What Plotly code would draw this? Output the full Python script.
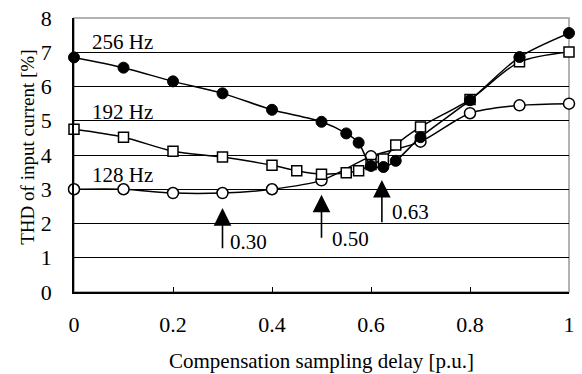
import plotly.graph_objects as go

# Data
x_256 = [0, 0.1, 0.2, 0.3, 0.4, 0.5, 0.55, 0.575, 0.6, 0.625, 0.65, 0.7, 0.8, 0.9, 1.0]
y_256 = [6.85, 6.55, 6.15, 5.8, 5.32, 4.97, 4.63, 4.36, 3.68, 3.65, 3.83, 4.52, 5.6, 6.86, 7.56]

x_192 = [0, 0.1, 0.2, 0.3, 0.4, 0.45, 0.5, 0.55, 0.575, 0.6, 0.625, 0.65, 0.7, 0.8, 0.9, 1.0]
y_192 = [4.75, 4.52, 4.11, 3.94, 3.70, 3.54, 3.44, 3.48, 3.54, 3.72, 3.88, 4.29, 4.82, 5.62, 6.72, 7.01]

x_128 = [0, 0.1, 0.2, 0.3, 0.4, 0.5, 0.6, 0.7, 0.8, 0.9, 1.0]
y_128 = [3.0, 3.0, 2.89, 2.89, 3.0, 3.26, 3.96, 4.39, 5.22, 5.45, 5.5]

series_labels = ["256 Hz", "192 Hz", "128 Hz"]
label_x = [0.032, 0.032, 0.032]
label_y = [7.30, 5.27, 3.42]

arrow_text = ["0.30", "0.50", "0.63"]
arrow_x = [0.30, 0.50, 0.622]
arrow_head_y = [2.45, 2.84, 3.27]
arrow_tail_y = [1.23, 1.54, 1.99]
arrow_text_x = [0.352, 0.559, 0.680]
arrow_text_y = [1.47, 1.54, 2.33]

x_ticks = [0, 0.2, 0.4, 0.6, 0.8, 1]
x_ticktext = ["0", "0.2", "0.4", "0.6", "0.8", "1"]
y_ticks = [0, 1, 2, 3, 4, 5, 6, 7, 8]

x_title = "Compensation sampling delay [p.u.]"
y_title = "THD of input current [%]"

FONT = "Liberation Serif, Times New Roman, serif"

fig = go.Figure()

fig.add_trace(go.Scatter(
    x=x_128, y=y_128, mode="lines+markers",
    line=dict(color="black", width=1.5, shape="spline", smoothing=0.8),
    marker=dict(symbol="circle", size=11, color="white", line=dict(color="black", width=1.5)),
    showlegend=False, cliponaxis=False))
fig.add_trace(go.Scatter(
    x=x_192, y=y_192, mode="lines+markers",
    line=dict(color="black", width=1.5, shape="spline", smoothing=0.8),
    marker=dict(symbol="square", size=10, color="white", line=dict(color="black", width=1.5)),
    showlegend=False, cliponaxis=False))
fig.add_trace(go.Scatter(
    x=x_256, y=y_256, mode="lines+markers",
    line=dict(color="black", width=1.5, shape="spline", smoothing=0.8),
    marker=dict(symbol="circle", size=11, color="black", line=dict(color="black", width=1)),
    showlegend=False, cliponaxis=False))

annotations = []
for t, lx, ly in zip(series_labels, label_x, label_y):
    annotations.append(dict(x=lx, y=ly, xref="x", yref="y", text=t, showarrow=False,
                            xanchor="left", yanchor="middle",
                            font=dict(family=FONT, size=21, color="black")))
for t, ax_, hy, ty, tx, tyy in zip(arrow_text, arrow_x, arrow_head_y, arrow_tail_y, arrow_text_x, arrow_text_y):
    annotations.append(dict(x=ax_, y=hy, ax=ax_, ay=ty, xref="x", yref="y", axref="x", ayref="y",
                            text="", showarrow=True, arrowhead=2, arrowsize=2.2, arrowwidth=1.6,
                            arrowcolor="black"))
    annotations.append(dict(x=tx, y=tyy, xref="x", yref="y", text=t, showarrow=False,
                            xanchor="center", yanchor="middle",
                            font=dict(family=FONT, size=21, color="black")))
# y-axis title as rotated text
annotations.append(dict(x=-0.093, y=0.53, xref="paper", yref="paper", text=y_title,
                        showarrow=False, textangle=-90, xanchor="center", yanchor="middle",
                        font=dict(family=FONT, size=19, color="black")))

fig.update_layout(
    width=582, height=374,
    margin=dict(l=74, r=13, t=18, b=82),
    paper_bgcolor="white", plot_bgcolor="white",
    font=dict(family=FONT, size=21, color="black"),
    annotations=annotations,
    shapes=[dict(type="rect", xref="paper", yref="paper", x0=0, y0=0, x1=1, y1=1,
                 line=dict(color="#999999", width=1.5), layer="below")],
    xaxis=dict(range=[0, 1], tickvals=x_ticks, ticktext=x_ticktext, automargin=False,
               showgrid=False, zeroline=False, showline=True, linecolor="black", linewidth=1.5,
               ticks="inside", ticklen=5, tickwidth=1, tickcolor="black",
               tickfont=dict(family=FONT, size=22), ticklabelstandoff=12,
               ticklabeloverflow="allow",
               title=dict(text=x_title, font=dict(family=FONT, size=21), standoff=17)),
    yaxis=dict(range=[0, 8], tickvals=y_ticks, automargin=False,
               showgrid=True, gridcolor="black", gridwidth=1, zeroline=False,
               showline=True, linecolor="black", linewidth=1.5, ticks="",
               tickfont=dict(family=FONT, size=22), ticklabelstandoff=16,
               ticklabeloverflow="allow"),
)

# remove the browser's default page margin so the figure fills the window exactly
fig.write_html("out.html", config={"displayModeBar": False},
               post_script="document.body.style.margin='0';")
